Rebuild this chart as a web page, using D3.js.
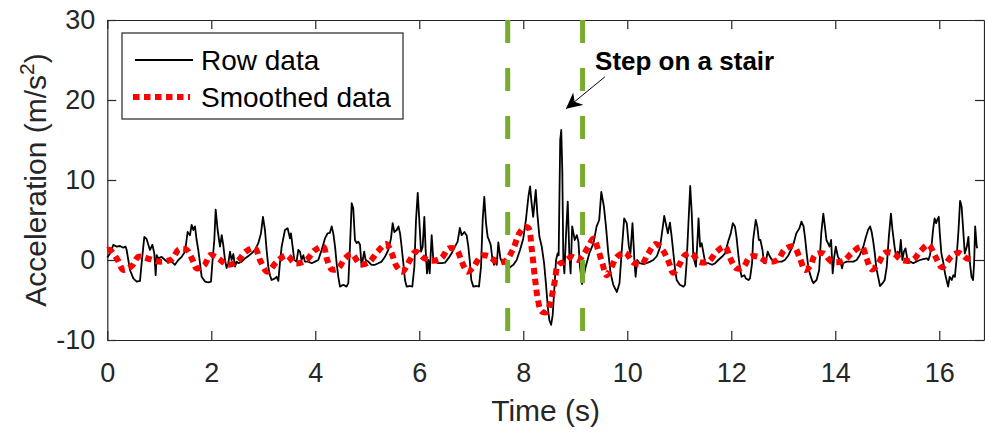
<!DOCTYPE html>
<html>
<head>
<meta charset="utf-8">
<script src="https://cdn.jsdelivr.net/npm/d3@7"></script>
<style>
  body { margin: 0; background: #fff; }
  svg { display: block; font-family: "Liberation Sans", Arial, sans-serif; }
  .axis path, .axis line { stroke: #262626; stroke-width: 1.2; }
  .axis text { fill: #262626; font-size: 27px; font-family: "Liberation Sans", Arial, sans-serif; }
</style>
</head>
<body>
<svg id="chart" width="985" height="432"></svg>
<script>
// raw acceleration samples (time in s, accel in m/s^2)
var rawTime = [0,0.05,0.116,0.18,0.244,0.308,0.353,0.372,0.436,0.5,0.565,0.629,0.66,0.712,0.757,0.789,0.821,0.866,0.904,0.93,0.95,0.981,
  1.045,1.11,1.17,1.237,1.3,1.366,1.43,1.494,1.545,1.59,1.622,1.654,1.686,1.718,1.75,1.782,1.815,1.879,1.943,1.994,
  2.02,2.058,2.084,2.122,2.167,2.2,2.23,2.263,2.295,2.327,2.36,2.39,2.424,2.456,2.488,2.52,2.584,2.648,2.712,2.776,2.84,2.904,2.955,2.994,
  3.032,3.064,3.096,3.128,3.16,3.225,3.257,3.289,3.32,3.353,3.417,3.468,3.513,3.532,3.564,3.596,3.64,3.673,3.705,3.737,3.77,3.8,3.865,3.93,3.994,
  4.058,4.122,4.186,4.237,4.28,4.315,4.347,4.38,4.41,4.443,4.475,4.54,4.6,4.635,4.667,4.7,4.73,4.763,4.795,4.827,4.86,4.89,4.923,4.94,4.968,
  5.02,5.08,5.148,5.212,5.276,5.34,5.404,5.456,5.488,5.52,5.566,5.6,5.63,5.66,5.693,5.725,5.757,5.82,5.866,5.905,5.937,5.97,
  6.0,6.033,6.065,6.097,6.122,6.148,6.174,6.2,6.238,6.27,6.3,6.366,6.43,6.494,6.558,6.622,6.686,6.737,6.78,6.815,6.866,6.91,6.943,6.975,
  7.0,7.04,7.1,7.148,7.187,7.219,7.25,7.283,7.315,7.34,7.373,7.405,7.437,7.469,7.49,7.52,7.56,7.6,7.68,7.745,7.81,7.873,7.937,
  8.0,8.05,8.1,8.13,8.16,8.19,8.24,8.27,8.31,8.355,8.4,8.44,8.47,8.5,8.535,8.565,8.6,8.63,8.66,8.68,8.71,8.73,8.75,8.77,8.79,8.82,8.855,8.885,8.91,8.94,8.96,8.99,
  9.03,9.06,9.09,9.13,9.2,9.27,9.35,9.41,9.46,9.5,9.55,9.59,9.635,9.68,9.73,9.8,9.85,9.89,9.94,9.99,
  10.03,10.06,10.1,10.14,10.16,10.19,10.24,10.31,10.37,10.44,10.5,10.57,10.63,10.68,10.71,10.74,10.78,10.82,10.85,10.88,10.92,10.95,
  11.01,11.08,11.11,11.14,11.17,11.21,11.24,11.27,11.32,11.35,11.37,11.4,11.43,11.46,11.5,11.56,11.63,11.69,11.75,11.82,11.88,11.94,11.99,
  12.03,12.07,12.1,12.14,12.17,12.2,12.25,12.28,12.33,12.36,12.4,12.42,12.47,12.5,12.53,12.56,12.6,12.63,12.67,12.7,12.73,12.78,12.84,12.9,12.97,
  13.03,13.1,13.16,13.2,13.25,13.31,13.35,13.39,13.42,13.45,13.48,13.51,13.55,13.58,13.64,13.69,13.73,13.77,13.8,13.83,13.89,13.92,13.95,13.98,
  14.01,14.05,14.09,14.13,14.15,14.22,14.28,14.35,14.41,14.47,14.54,14.59,14.63,14.67,14.7,14.73,14.76,14.79,14.83,14.86,14.91,14.95,14.99,
  15.03,15.07,15.1,15.14,15.17,15.2,15.23,15.26,15.29,15.32,15.35,15.39,15.44,15.5,15.56,15.63,15.69,15.76,15.79,15.82,15.85,15.88,15.91,15.94,15.96,15.99,
  16.01,16.04,16.08,16.11,16.14,16.17,16.2,16.24,16.27,16.3,16.33,16.37,16.4,16.43,16.46,16.49,16.53,16.56,16.59,16.62,16.65,16.67,16.69,16.72,16.73];
var rawAccel = [0.3,0.8,1.9,1.67,1.75,1.54,1.67,1.25,-1.25,-2.3,-2.7,-2.6,-0.4,2.9,2.6,1.9,1.25,1.9,0.83,-1.9,0.6,0.2,
  0.4,0,-0.33,-0.2,-0.6,0,0.4,1.04,3.5,3.1,4.4,3.75,4.2,2.5,1.25,-0.4,-2.1,-2.7,-2.8,-2.7,
  -0.4,2.5,6.3,3.75,1.67,3.1,1.9,0,-1.0,-0.4,1.04,0,0.75,-0.83,-0.2,-0.4,-0.2,0.2,0.5,0.83,1.25,2.1,3.33,5.4,
  3.75,1.25,-0.83,-1.9,-2.5,-2.3,-2.1,-2.6,-0.4,1.67,3.75,3.96,2.7,3.33,1.67,0,-0.2,1.25,1.04,0,0.6,-0.2,-0.2,-0.4,-0.2,
  0,1.25,2.7,3.33,3.4,4.2,3.3,1.67,-0.4,-2.1,-3.33,-3.1,-3.33,-2.9,1.67,7.1,6.46,2.5,2.1,2.3,1.9,-0.83,0.4,1.04,0,
  -0.2,-0.6,-0.6,-0.4,-0.2,0.4,1.25,2.7,4.6,3.5,3.75,4.2,3.33,1.67,-0.4,-2.5,-3.33,-3.25,-3.33,-0.83,5.0,8.4,
  5.0,1.04,1.67,5.4,1.25,-1.67,0,-1.67,3.1,0,-0.2,-0.4,-0.4,-0.33,0.2,0.83,1.67,2.3,4.0,3.1,3.5,3.1,1.67,-0.4,
  -2.5,-3.33,-3.25,-3.33,-0.83,5.0,7.9,4.6,2.9,2.5,1.9,0.2,-0.6,0.2,-0.6,2.2,0.2,-0.4,-0.5,-0.9,-0.6,0,1.25,
  2.7,5.0,8.0,9.2,7.1,5.4,8.75,5.8,2.9,1.67,-0.4,-3.3,-5.8,-7.5,-8.1,-6.9,-3.3,0,0.83,0.6,15.0,16.25,11.25,0,-1.67,2.9,7.3,0.83,-1.67,4.2,3.5,2.5,
  3.1,2.3,-0.83,-3.0,-0.83,0.83,2.1,4.2,5.0,8.5,6.7,4.2,0.83,-1.67,-3.1,-4.0,-2.9,0.83,5.2,4.6,
  1.67,0.83,4.6,-0.4,-2.1,0,-0.4,-0.5,-0.4,-0.2,0,0.5,1.6,4.0,5.5,4.6,3.33,4.67,3.1,1.25,-1.25,-2.5,
  -3.1,-3.33,-3.1,-0.4,3.75,9.25,5.8,0.4,-0.83,2.5,5.2,1.67,2.1,1.04,-0.4,-0.4,-0.6,-0.4,0,0.4,0.83,2.3,3.33,
  4.6,4.2,2.9,0.4,-1.25,-2.1,-1.9,-2.3,-2.5,-2.3,-0.4,2.5,5.0,4.2,2.5,2.5,1.25,-0.4,0,1.04,0.6,0,-0.2,-0.2,-0.2,
  0,0.6,1.46,2.1,3.33,3.96,4.8,4.2,2.7,0.83,-0.83,-1.67,-2.5,-2.9,-2.5,-1.25,3.33,5.8,4.2,2.5,1.67,2.5,-1.67,0.4,
  1.67,0.4,0,-1.04,-0.4,-0.2,-0.2,-0.2,0,0.6,1.67,2.9,3.75,4.2,3.5,2.3,0.83,-1.04,-2.3,-3.25,-2.9,-2.5,-0.83,
  2.9,5.8,3.75,1.67,0.4,1.04,0.4,2.5,0,1.04,1.46,0,-0.2,-0.4,-0.2,0,0.1,0.2,0,0.6,1.67,3.75,5.2,4.6,5.0,5.4,
  3.33,0.83,-0.4,-1.67,-2.5,-3.33,-2.1,-2.5,-1.9,-2.1,0,3.75,7.4,6.67,3.75,0.83,1.67,2.9,-0.4,-2.1,-2.5,-0.4,4.2,1.67,1.46];

// smoothed signal
var smoothTime = [0,0.05,0.2,0.31,0.47,0.6,0.82,0.99,1.24,1.38,1.53,1.64,1.72,1.87,1.975,2.13,2.315,2.5,2.66,2.84,2.935,
  3.08,3.26,3.45,3.61,3.83,3.98,4.155,4.22,4.315,4.44,4.57,4.7,4.86,5.02,5.2,5.36,5.47,5.56,5.67,5.82,5.93,
  6.1,6.24,6.42,6.57,6.72,6.815,6.93,7.04,7.19,7.33,7.49,7.65,7.8,7.92,8.03,8.1,8.16,8.22,8.27,8.35,8.45,8.51,8.56,8.61,8.67,8.8,8.93,
  9.06,9.15,9.25,9.35,9.44,9.52,9.6,9.7,9.8,9.96,10.12,10.28,10.4,10.55,10.69,10.8,10.88,
  11.0,11.11,11.24,11.37,11.56,11.72,11.88,11.98,12.1,12.23,12.36,12.52,12.69,12.89,
  13.03,13.2,13.32,13.42,13.53,13.61,13.77,13.93,14.16,14.32,14.51,14.6,14.7,14.83,14.95,
  15.12,15.28,15.49,15.63,15.79,15.92,16.05,16.24,16.37,16.53,16.65];
var smoothAccel = [1.25,1.25,0,-1.25,-0.75,0.4,0.1,-0.2,0.1,1.33,1.25,0,-1.04,-0.6,0.6,0.2,-0.6,-0.2,1.04,1.46,0,
  -1.46,-0.2,0.6,-0.4,0,1.17,1.67,0.2,-1.17,-1.04,0.2,0.75,-0.5,-0.33,1.04,2.0,0.83,-0.75,-1.46,0,1.04,
  0.2,-0.1,0.2,1.46,1.25,-0.2,-1.46,-0.9,0.5,0.5,-0.25,-0.15,1.3,3.3,4.1,4.0,1.5,-2.0,-4.5,-6.4,-6.5,-5.6,-4.2,-2.5,-0.6,-0.2,0.4,
  0,0.6,1.67,2.7,1.25,-0.4,-1.9,-0.83,0.4,0.9,-0.33,-0.5,0.8,2.0,1.15,-0.3,-1.6,
  -0.6,0.6,0.83,-0.2,-0.2,1.04,1.67,0.2,-1.04,-0.9,0.4,0.4,-0.2,0,
  1.33,1.67,0.2,-1.25,-0.6,0.6,0.83,-0.2,-0.1,0.9,1.67,0.2,-1.17,-0.4,0.9,
  0.83,0,0,1.04,1.9,0.5,-0.9,0.5,0.9,0.2,0.1];

var xTicks = [0, 2, 4, 6, 8, 10, 12, 14, 16];
var yTicks = [-10, 0, 10, 20, 30];
var stepMarks = [7.7, 9.14];             // green dashed lines (s)
var noteText = "Step on a stair";
var notePos = [9.38, 23.75];             // text anchor (s, m/s^2)
var arrowFrom = [9.57, 22.9];
var arrowTo = [8.82, 18.9];

var svg = d3.select("#chart");
var plotL = 107.3, plotR = 984, plotT = 20, plotB = 340;

var x = d3.scaleLinear().domain([0, 16.86]).range([plotL, plotR]);
var y = d3.scaleLinear().domain([-10, 30]).range([plotB, plotT]);

var raw = rawTime.map(function(t, i) { return [t, rawAccel[i]]; });
var smooth = smoothTime.map(function(t, i) { return [t, smoothAccel[i]]; });

// plain hyphen for negatives, like the original figure
var plainNum = function(d) { return String(d); };

// axes, MATLAB style box with inward ticks
svg.append("g").attr("class", "axis")
  .attr("transform", "translate(0," + plotB + ")")
  .call(d3.axisBottom(x).tickValues(xTicks).tickFormat(plainNum).tickSizeInner(-9).tickSizeOuter(0).tickPadding(22.5));
svg.append("g").attr("class", "axis")
  .attr("transform", "translate(0," + plotT + ")")
  .call(d3.axisTop(x).tickValues(xTicks).tickSizeInner(-9).tickSizeOuter(0).tickFormat(""));
svg.append("g").attr("class", "axis")
  .attr("transform", "translate(" + plotL + ",0)")
  .call(d3.axisLeft(y).tickValues(yTicks).tickFormat(plainNum).tickSizeInner(-9).tickSizeOuter(0).tickPadding(12));
svg.append("g").attr("class", "axis")
  .attr("transform", "translate(" + plotR + ",0)")
  .call(d3.axisRight(y).tickValues(yTicks).tickSizeInner(-9).tickSizeOuter(0).tickFormat(""));

var line = d3.line().x(function(d) { return x(d[0]); }).y(function(d) { return y(d[1]); });

svg.append("path")
  .datum(raw)
  .attr("fill", "none")
  .attr("stroke", "#000")
  .attr("stroke-width", 1.8)
  .attr("stroke-linejoin", "round")
  .attr("d", line);

svg.append("path")
  .datum(smooth)
  .attr("fill", "none")
  .attr("stroke", "#ff0000")
  .attr("stroke-width", 6)
  .attr("stroke-dasharray", "6.5,4.5")
  .attr("d", line.curve(d3.curveCatmullRom));

svg.selectAll(".step")
  .data(stepMarks)
  .enter().append("line")
  .attr("class", "step")
  .attr("x1", function(d) { return x(d); })
  .attr("x2", function(d) { return x(d); })
  .attr("y1", y(30))
  .attr("y2", y(-10))
  .attr("stroke", "#77ac30")
  .attr("stroke-width", 5)
  .attr("stroke-dasharray", "23,25");

// annotation
svg.append("defs").append("marker")
  .attr("id", "head")
  .attr("viewBox", "0 0 10 10")
  .attr("refX", 10).attr("refY", 5)
  .attr("markerWidth", 16).attr("markerHeight", 16)
  .attr("markerUnits", "userSpaceOnUse")
  .attr("orient", "auto")
  .append("path").attr("d", "M0,0 L10,5 L0,10 L3,5 Z").attr("fill", "#000");

svg.append("line")
  .attr("x1", x(arrowFrom[0])).attr("y1", y(arrowFrom[1]))
  .attr("x2", x(arrowTo[0])).attr("y2", y(arrowTo[1]))
  .attr("stroke", "#000").attr("stroke-width", 1)
  .attr("marker-end", "url(#head)");

svg.append("text")
  .attr("x", x(notePos[0])).attr("y", y(notePos[1]))
  .attr("font-size", 26).attr("font-weight", "bold")
  .attr("fill", "#000")
  .text(noteText);

// axis titles
svg.append("text")
  .attr("x", (plotL + plotR) / 2).attr("y", 421)
  .attr("text-anchor", "middle")
  .attr("font-size", 30).attr("fill", "#262626")
  .text("Time (s)");

var yl = svg.append("text")
  .attr("transform", "translate(46," + (plotT + plotB) / 2 + ") rotate(-90)")
  .attr("text-anchor", "middle")
  .attr("font-size", 30).attr("fill", "#262626");
yl.append("tspan").text("Acceleration (m/s");
yl.append("tspan").attr("font-size", 21).attr("dy", -12).text("2");
yl.append("tspan").attr("dy", 12).text(")");

// legend
var lg = svg.append("g");
lg.append("rect")
  .attr("x", 122).attr("y", 33).attr("width", 281).attr("height", 86)
  .attr("fill", "#fff").attr("stroke", "#262626").attr("stroke-width", 1.2);
lg.append("line")
  .attr("x1", 135).attr("x2", 193).attr("y1", 60).attr("y2", 60)
  .attr("stroke", "#000").attr("stroke-width", 1.8);
lg.append("line")
  .attr("x1", 133).attr("x2", 190).attr("y1", 97).attr("y2", 97)
  .attr("stroke", "#ff0000").attr("stroke-width", 6).attr("stroke-dasharray", "6.5,4.5");
lg.append("text").attr("x", 201).attr("y", 69.5)
  .attr("font-size", 28).attr("fill", "#000").text("Row data");
lg.append("text").attr("x", 201).attr("y", 107)
  .attr("font-size", 28).attr("fill", "#000").text("Smoothed data");
</script>
</body>
</html>
